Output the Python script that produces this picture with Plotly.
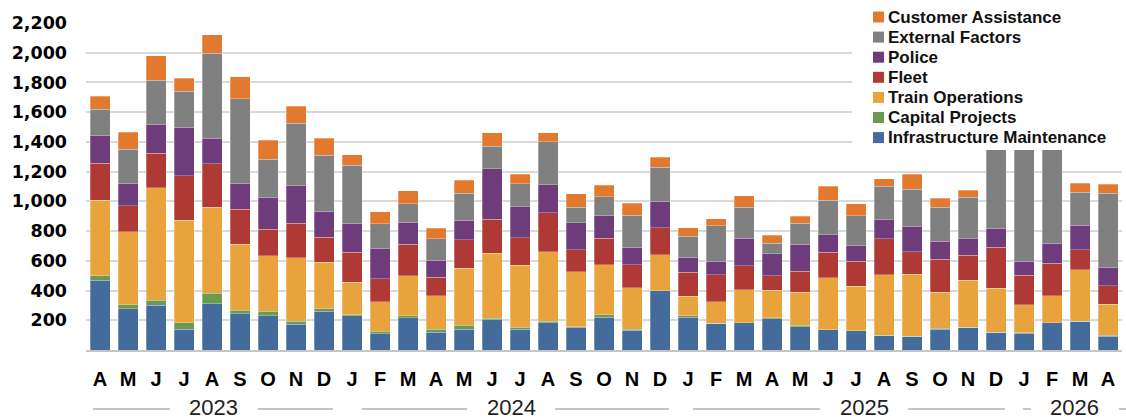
import plotly.graph_objects as go

# Monthly delay counts by cause, April 2023 - April 2026
months = ["A", "M", "J", "J", "A", "S", "O", "N", "D",
          "J", "F", "M", "A", "M", "J", "J", "A", "S", "O", "N", "D",
          "J", "F", "M", "A", "M", "J", "J", "A", "S", "O", "N", "D",
          "J", "F", "M", "A"]
years = ["2023"] * 9 + ["2024"] * 12 + ["2025"] * 12 + ["2026"] * 4
periods = [f"{m}-{i:02d}-{y}" for i, (m, y) in enumerate(zip(months, years))]

infrastructure = [469, 278, 300, 139, 312, 244, 231, 173, 262,
                  231, 110, 218, 121, 139, 204, 139, 182, 152, 220, 132, 397,
                  222, 179, 182, 211, 155, 137, 130, 96, 90, 141, 152, 121,
                  114, 184, 195, 92]
capital = [31, 25, 34, 43, 71, 25, 29, 20, 14,
           7, 16, 11, 18, 29, 11, 13, 13, 3, 18, 7, 0,
           9, 0, 0, 7, 13, 0, 0, 4, 4, 4, 0, 0,
           3, 0, 0, 6]
train_ops = [507, 493, 758, 690, 577, 444, 375, 426, 314,
             217, 197, 271, 227, 381, 435, 418, 466, 370, 336, 280, 244,
             130, 146, 224, 183, 222, 350, 298, 407, 415, 243, 317, 294,
             186, 181, 345, 209]
fleet = [251, 173, 233, 299, 293, 235, 179, 235, 168,
         204, 157, 211, 125, 193, 229, 186, 263, 148, 179, 153, 182,
         161, 182, 161, 99, 139, 172, 168, 240, 152, 222, 168, 278,
         199, 218, 135, 126]
police = [182, 150, 193, 329, 173, 171, 215, 251, 175,
          191, 206, 150, 112, 130, 341, 208, 188, 184, 151, 121, 173,
          101, 87, 184, 146, 184, 115, 110, 128, 173, 123, 110, 125,
          94, 135, 166, 123]
external = [181, 233, 296, 240, 572, 572, 254, 422, 377,
            392, 164, 123, 144, 182, 152, 155, 289, 103, 127, 213, 235,
            144, 242, 209, 72, 141, 235, 198, 226, 249, 229, 280, 812,
            1000, 880, 222, 498]
customer = [86, 112, 166, 88, 123, 148, 127, 112, 114,
            72, 80, 88, 71, 87, 90, 65, 61, 92, 77, 81, 67,
            56, 47, 78, 53, 47, 94, 80, 52, 99, 58, 49, 70,
            74, 82, 60, 60]

series_names = ["Infrastructure Maintenance", "Capital Projects", "Train Operations",
                "Fleet", "Police", "External Factors", "Customer Assistance"]
series_values = [infrastructure, capital, train_ops, fleet, police, external, customer]
series_colors = ["#436B9C", "#6A9950", "#E8A33D", "#AF3935", "#6E3B7B", "#808080", "#E3792F"]

y_ticks = [200, 400, 600, 800, 1000, 1200, 1400, 1600, 1800, 2000, 2200]
y_max = 2200

W, H = 1126, 420
ML, MR, MT, MB = 86, 4, 23, 70
PW, PH = W - ML - MR, H - MT - MB


def px_x(px):
    return (px - ML) / PW


def px_y(py):
    return (H - MB - py) / PH


fig = go.Figure()
for name, vals, col in zip(series_names, series_values, series_colors):
    fig.add_trace(go.Bar(
        x=periods, y=vals, name=name, showlegend=False,
        marker=dict(color=col, line=dict(color="rgba(255,255,255,0.35)", width=0.8)),
    ))

shapes = []
annotations = []

# legend panel sits over the upper right of the plot
shapes.append(dict(type="rect", xref="paper", yref="paper", layer="above",
                   x0=px_x(852), x1=px_x(1130), y0=px_y(150), y1=px_y(-2),
                   fillcolor="white", line=dict(width=0)))
row_h = 20.1
for k, (name, col) in enumerate(zip(series_names[::-1], series_colors[::-1])):
    cy = 17 + k * row_h
    shapes.append(dict(type="rect", xref="paper", yref="paper", layer="above",
                       x0=px_x(873), x1=px_x(884), y0=px_y(cy + 5.5), y1=px_y(cy - 5.5),
                       fillcolor=col, line=dict(width=0)))
    annotations.append(dict(text=name, xref="paper", yref="paper", x=px_x(886), y=px_y(cy),
                            xanchor="left", yanchor="middle", showarrow=False,
                            font=dict(family="Liberation Sans", size=17, color="#111111",
                                      weight="bold")))

# year group labels under the month letters
year_groups = [("2023", 0, 8, 4.07, 7), ("2024", 9, 20, 14.68, 24),
               ("2025", 21, 32, 27.29, 19), ("2026", 33, 36, 34.82, 13)]
slot = PW / len(periods)
year_y = 407
for label, first, last, centre, lead in year_groups:
    g_left = ML + first * slot
    g_right = ML + (last + 1) * slot
    c_px = ML + (centre + 0.5) * slot
    half = 26
    segs = [(g_left + lead, c_px - half - 18), (c_px + half + 18, max(g_right - 5, c_px + half + 30))]
    for a, b in segs:
        shapes.append(dict(type="line", xref="paper", yref="paper",
                           x0=px_x(a), x1=px_x(b), y0=px_y(year_y + 2), y1=px_y(year_y + 2),
                           line=dict(color="#8a8a8a", width=1)))
    annotations.append(dict(text=label, xref="paper", yref="paper", x=px_x(c_px), y=px_y(year_y),
                            xanchor="center", yanchor="middle", showarrow=False,
                            font=dict(family="Liberation Sans", size=22, color="#222222")))

fig.update_layout(
    width=W, height=H,
    margin=dict(l=ML, r=MR, t=MT, b=MB),
    barmode="stack", bargap=0.286,
    plot_bgcolor="white", paper_bgcolor="white",
    shapes=shapes, annotations=annotations,
    xaxis=dict(type="category", tickmode="array", tickvals=periods, ticktext=months,
               tickfont=dict(family="Liberation Sans", size=20, color="#000000", weight="bold"),
               showgrid=False, showline=True, linecolor="#c4c4c4", linewidth=2,
               ticks="", ticklabelstandoff=10, range=[-0.5, len(periods) - 0.5]),
    yaxis=dict(range=[0, y_max], tickmode="array", tickvals=y_ticks,
               ticktext=[f"{v:,}" for v in y_ticks],
               tickfont=dict(family="DejaVu Sans", size=17.5, color="#000000", weight="bold"),
               showgrid=True, gridcolor="#d9d9d9", gridwidth=1.5,
               zeroline=False, showline=False, ticks="", ticklabelstandoff=18),
)

fig.write_html("out.html")
